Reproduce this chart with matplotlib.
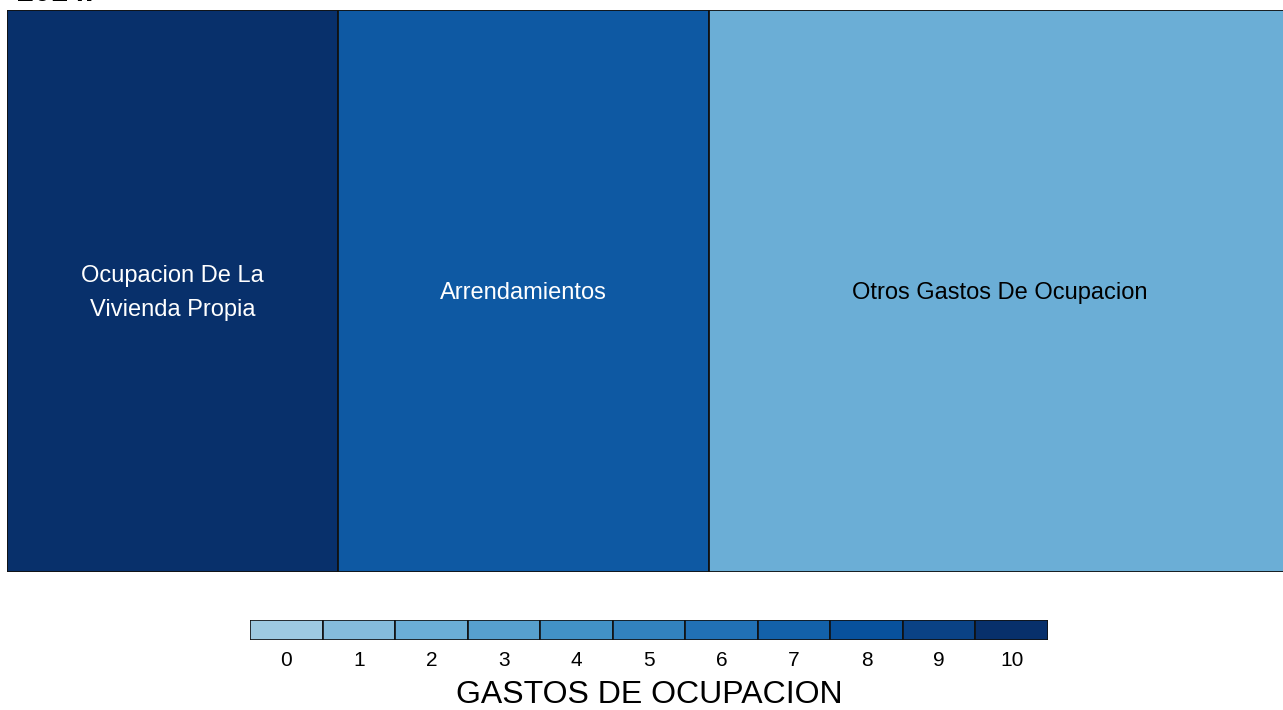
import matplotlib
matplotlib.use("Agg")
import matplotlib.pyplot as plt
import matplotlib.colors as mc
from matplotlib.patches import Rectangle

plt.rcParams['font.family'] = ['Liberation Sans', 'DejaVu Sans']

# Data
title = "2014."
categories = ["Ocupacion De La\nVivienda Propia", "Arrendamientos", "Otros Gastos De Ocupacion"]
sizes = [25.8, 28.95, 45.25]        # share of area
color_values = [10, 7.5, 2]         # value on the colour scale
legend_levels = list(range(0, 11))
legend_colors = ["#9ecae1", "#85bcdb", "#6baed6", "#57a0ce", "#4292c6", "#3282be",
                 "#2171b5", "#1361a9", "#08519c", "#0a4285", "#08306b"]
legend_title = "GASTOS DE OCUPACION"

W, H = 1283, 710
fig = plt.figure(figsize=(W / 100, H / 100), dpi=100)

def interp_color(v):
    lo = int(v)
    hi = min(lo + 1, 10)
    t = v - lo
    a = mc.to_rgb(legend_colors[lo]); b = mc.to_rgb(legend_colors[hi])
    return tuple(a[i] + (b[i] - a[i]) * t for i in range(3))

# Treemap axes
left, top, bottom, right = 7, 10, 572, 1290
ax = fig.add_axes([left / W, 1 - bottom / H, (right - left) / W, (bottom - top) / H])
total = sum(sizes)
x0 = 0.0
for cat, s, cv in zip(categories, sizes, color_values):
    w = s / total
    col = interp_color(cv)
    ax.add_patch(Rectangle((x0, 0), w, 1, facecolor=col, edgecolor="#111111", linewidth=1.3))
    lum = 0.299 * col[0] + 0.587 * col[1] + 0.114 * col[2]
    tc = "white" if lum < 0.5 else "black"
    ax.text(x0 + w / 2, 1 - (293 - top) / (bottom - top), cat, ha="center", va="center",
            color=tc, fontsize=17, linespacing=1.75)
    x0 += w
ax.set_xlim(0, 1)
ax.set_ylim(0, 1)
ax.axis("off")

fig.text(17 / W, 1 - 1 / H, title, fontsize=22, fontweight="bold", va="baseline", ha="left")

# Legend colour bar
lx0, lx1, ly0, ly1 = 250, 1048, 620, 640
lax = fig.add_axes([lx0 / W, 1 - ly1 / H, (lx1 - lx0) / W, (ly1 - ly0) / H])
n = len(legend_levels)
for i, (lv, c) in enumerate(zip(legend_levels, legend_colors)):
    lax.add_patch(Rectangle((i, 0), 1, 1, facecolor=c, edgecolor="#111111", linewidth=1.2))
lax.set_xlim(0, n)
lax.set_ylim(0, 1)
lax.axis("off")
for i, lv in enumerate(legend_levels):
    fig.text((lx0 + (lx1 - lx0) * (i + 0.5) / n) / W, 1 - 660 / H, str(lv),
             ha="center", va="center", fontsize=15)
fig.text((lx0 + lx1) / 2 / W, 1 - 695 / H, legend_title, ha="center", va="center", fontsize=23)

fig.savefig("out.png", dpi=100)
